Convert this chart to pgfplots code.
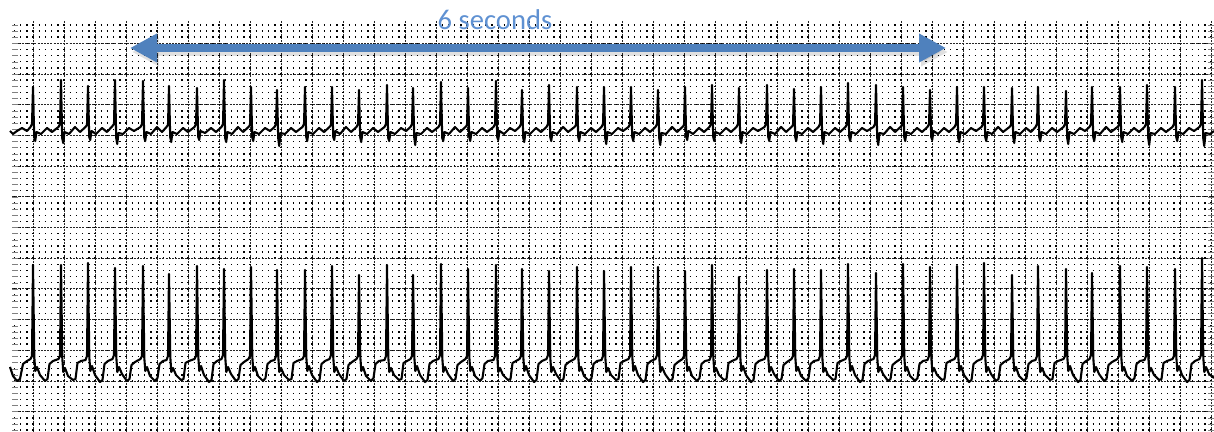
\documentclass[border=0pt]{standalone}
\usepackage{pgfplots}
\pgfplotsset{compat=1.18}
\usepackage{fontspec}
\setmainfont{Carlito}
\usetikzlibrary{arrows.meta}

\definecolor{arrowblue}{RGB}{79,129,189}
\definecolor{textblue}{RGB}{95,145,210}

\begin{document}
\begin{tikzpicture}
% 1 px of the strip = 0.5pt
\begin{axis}[
    scale only axis,
    width=601pt, height=205.5pt,
    xmin=12, xmax=1214,
    ymin=21, ymax=432,
    y dir=reverse,
    clip=false,
    axis line style={draw=none},
    major tick length=0pt,
    xticklabels={}, yticklabels={},
    xtick={33,64,...,1214},
    ytick={43.3,74,...,432},
    minor ytick={24.88,31.02,...,432},
    grid=both,
    major grid style={black!85, line width=0.45pt, dash pattern=on 1pt off 0.6pt},
    minor grid style={black, line width=0.7pt, dash pattern=on 0.7pt off 2.4pt, dash phase=2.2pt},
]

% upper lead
\addplot[black, line width=1.05pt, no marks, line join=round] coordinates {
(10,131) (13,134) (17,131) (22,128) (27,131)
(30.5,127) (32,124) (33,87) (34.2,137) (35.2,141) (36.5,132) (41,134) (47,128) (52,132)
(58.5,127) (60,124) (61,80) (62.2,138) (63.2,143) (64.5,132) (69,134) (75,127) (80,132)
(85.5,127) (87,125) (88,86) (89.2,137) (90.2,140) (91.5,131) (96,134) (102,128) (107,132)
(112.5,126) (114,124) (115,80) (116.2,138) (117.2,144) (118.5,133) (123,134) (129,128) (134,131)
(140.5,127) (142,124) (143,81) (144.2,137) (145.2,141) (146.5,132) (151,134) (157,127) (162,132)
(166.5,127) (168,125) (169,86) (170.2,137) (171.2,142) (172.5,132) (177,134) (183,128) (188,132)
(194.5,127) (196,124) (197,88) (198.2,137) (199.2,140) (200.5,131) (205,133) (211,128) (216,132)
(221.5,127) (223,124) (224,80) (225.2,138) (226.2,142) (227.5,132) (232,134) (238,127) (243,132)
(248.5,127) (250,125) (251,87) (252.2,137) (253.2,141) (254.5,132) (259,134) (265,128) (270,131)
(274.5,127) (276,124) (277,90) (278.2,138) (279.2,146) (280.5,133) (285,134) (291,128) (296,132)
(302.5,127) (304,124) (305,87) (306.2,137) (307.2,141) (308.5,132) (313,134) (319,128) (324,132)
(329.5,127) (331,125) (332,87) (333.2,137) (334.2,140) (335.5,131) (340,134) (346,127) (351,132)
(356.5,127) (358,124) (359,90) (360.2,137) (361.2,142) (362.5,132) (367,134) (373,128) (378,132)
(384.5,127) (386,124) (387,85) (388.2,138) (389.2,141) (390.5,132) (395,134) (401,128) (406,131)
(410.5,127) (412,124) (413,88) (414.2,137) (415.2,145) (416.5,133) (421,134) (427,128) (432,132)
(438.5,127) (440,124) (441,82) (442.2,138) (443.2,141) (444.5,132) (449,134) (455,127) (460,132)
(465.5,127) (467,125) (468,88) (469.2,137) (470.2,141) (471.5,132) (476,134) (482,128) (487,132)
(493.5,127) (495,124) (496,81) (497.2,137) (498.2,140) (499.5,131) (504,134) (510,128) (515,131)
(519.5,127) (521,124) (522,90) (523.2,138) (524.2,142) (525.5,132) (530,134) (536,128) (541,132)
(546.5,127) (548,124) (549,85) (550.2,137) (551.2,141) (552.5,132) (557,134) (563,127) (568,132)
(574.5,127) (576,125) (577,87) (578.2,137) (579.2,141) (580.5,132) (585,134) (591,128) (596,132)
(601.5,127) (603,124) (604,87) (605.2,138) (606.2,144) (607.5,132) (612,134) (618,128) (623,131)
(628.5,127) (630,124) (631,87) (632.2,137) (633.2,141) (634.5,132) (639,134) (645,128) (650,132)
(655.5,127) (657,124) (658,90) (659.2,138) (660.2,145) (661.5,133) (666,134) (672,127) (677,132)
(682.5,127) (684,125) (685,87) (686.2,137) (687.2,140) (688.5,131) (693,134) (699,128) (704,132)
(709.5,127) (711,124) (712,85) (713.2,137) (714.2,141) (715.5,132) (720,134) (726,128) (731,132)
(736.5,127) (738,124) (739,88) (740.2,138) (741.2,143) (742.5,132) (747,134) (753,128) (758,131)
(764.5,127) (766,124) (767,85) (768.2,137) (769.2,141) (770.5,132) (775,134) (781,127) (786,132)
(791.5,127) (793,125) (794,89) (795.2,137) (796.2,141) (797.5,132) (802,134) (808,128) (813,132)
(818.5,127) (820,124) (821,87) (822.2,138) (823.2,144) (824.5,132) (829,134) (835,128) (840,132)
(845.5,127) (847,124) (848,83) (849.2,137) (850.2,141) (851.5,132) (856,134) (862,128) (867,131)
(873.5,127) (875,124) (876,85) (877.2,138) (878.2,145) (879.5,133) (884,134) (890,127) (895,132)
(900.5,127) (902,125) (903,87) (904.2,137) (905.2,141) (906.5,132) (911,134) (917,128) (922,132)
(927.5,127) (929,124) (930,90) (931.2,137) (932.2,140) (933.5,131) (938,134) (944,128) (949,132)
(954.5,127) (956,124) (957,87) (958.2,138) (959.2,142) (960.5,132) (965,134) (971,128) (976,131)
(981.5,127) (983,124) (984,87) (985.2,137) (986.2,141) (987.5,132) (992,134) (998,127) (1003,132)
(1009.5,127) (1011,125) (1012,88) (1013.2,137) (1014.2,143) (1015.5,132) (1020,134) (1026,128) (1031,132)
(1035.5,127) (1037,124) (1038,87) (1039.2,137) (1040.2,141) (1041.5,132) (1046,134) (1052,128) (1057,132)
(1063.5,127) (1065,124) (1066,91) (1067.2,138) (1068.2,144) (1069.5,132) (1074,134) (1080,128) (1085,131)
(1089.5,127) (1091,124) (1092,87) (1093.2,137) (1094.2,141) (1095.5,132) (1100,134) (1106,127) (1111,132)
(1117.5,127) (1119,125) (1120,87) (1121.2,137) (1122.2,142) (1123.5,132) (1128,134) (1134,128) (1139,132)
(1144.5,127) (1146,124) (1147,85) (1148.2,138) (1149.2,145) (1150.5,133) (1155,134) (1161,128) (1166,132)
(1172.5,127) (1174,124) (1175,87) (1176.2,137) (1177.2,141) (1178.5,132) (1183,134) (1189,128) (1194,131)
(1199.5,127) (1201,124) (1202,80) (1203.2,138) (1204.2,146) (1205.5,133) (1210,134) (1214,131)
};

% lower lead
\addplot[black, line width=1.05pt, no marks, line join=round] coordinates {
(10,367) (13,376) (17,381) (20,379) (23,364) (27,361)
(30.5,359) (32,356) (33,265) (34.3,357) (35.3,371) (37,367) (40,375) (45,381) (47.5,379) (49.5,364) (53,361)
(58.5,359) (60,356) (61,265) (62.3,358) (63.3,372) (65,368) (68,376) (73,380) (75.5,379) (77.5,363) (81,361)
(85.5,360) (87,356) (88,263) (89.3,357) (90.3,371) (92,366) (95,375) (100,382) (102.5,380) (104.5,364) (108,361)
(112.5,359) (114,355) (115,268) (116.3,357) (117.3,372) (119,367) (122,374) (127,381) (129.5,379) (131.5,365) (135,362)
(140.5,359) (142,356) (143,266) (144.3,358) (145.3,371) (147,367) (150,376) (155,381) (157.5,378) (159.5,364) (163,361)
(166.5,360) (168,356) (169,274) (170.3,357) (171.3,372) (173,368) (176,375) (181,380) (183.5,379) (185.5,363) (189,361)
(194.5,359) (196,356) (197,266) (198.3,357) (199.3,371) (201,366) (204,375) (209,382) (211.5,380) (213.5,364) (217,361)
(221.5,359) (223,355) (224,269) (225.3,358) (226.3,372) (228,367) (231,374) (236,381) (238.5,379) (240.5,365) (244,362)
(248.5,359) (250,356) (251,267) (252.3,357) (253.3,371) (255,367) (258,376) (263,381) (265.5,378) (267.5,364) (271,361)
(274.5,360) (276,356) (277,270) (278.3,357) (279.3,372) (281,368) (284,375) (289,380) (291.5,379) (293.5,363) (297,361)
(302.5,359) (304,356) (305,270) (306.3,357) (307.3,371) (309,366) (312,375) (317,382) (319.5,380) (321.5,364) (325,361)
(329.5,359) (331,355) (332,266) (333.3,358) (334.3,372) (336,367) (339,374) (344,381) (346.5,379) (348.5,365) (352,362)
(356.5,359) (358,356) (359,275) (360.3,357) (361.3,371) (363,367) (366,376) (371,381) (373.5,378) (375.5,364) (379,361)
(384.5,360) (386,356) (387,265) (388.3,357) (389.3,372) (391,368) (394,375) (399,380) (401.5,379) (403.5,363) (407,361)
(410.5,359) (412,356) (413,275) (414.3,357) (415.3,371) (417,366) (420,375) (425,382) (427.5,380) (429.5,364) (433,361)
(438.5,359) (440,355) (441,264) (442.3,358) (443.3,372) (445,367) (448,374) (453,381) (455.5,379) (457.5,365) (461,362)
(465.5,359) (467,356) (468,269) (469.3,357) (470.3,371) (472,367) (475,376) (480,381) (482.5,378) (484.5,364) (488,361)
(493.5,360) (495,356) (496,265) (497.3,357) (498.3,372) (500,368) (503,375) (508,380) (510.5,379) (512.5,363) (516,361)
(519.5,359) (521,356) (522,269) (523.3,357) (524.3,371) (526,366) (529,375) (534,382) (536.5,380) (538.5,364) (542,361)
(546.5,359) (548,355) (549,271) (550.3,358) (551.3,372) (553,367) (556,374) (561,381) (563.5,379) (565.5,365) (569,362)
(574.5,359) (576,356) (577,267) (578.3,357) (579.3,371) (581,367) (584,376) (589,381) (591.5,378) (593.5,364) (597,361)
(601.5,360) (603,356) (604,271) (605.3,357) (606.3,372) (608,368) (611,375) (616,380) (618.5,379) (620.5,363) (624,361)
(628.5,359) (630,356) (631,267) (632.3,357) (633.3,371) (635,366) (638,375) (643,382) (645.5,380) (647.5,364) (651,361)
(655.5,359) (657,355) (658,267) (659.3,358) (660.3,372) (662,367) (665,374) (670,381) (672.5,379) (674.5,365) (678,362)
(682.5,359) (684,356) (685,271) (686.3,357) (687.3,371) (689,367) (692,376) (697,381) (699.5,378) (701.5,364) (705,361)
(709.5,360) (711,356) (712,265) (713.3,357) (714.3,372) (716,368) (719,375) (724,380) (726.5,379) (728.5,363) (732,361)
(736.5,359) (738,356) (739,277) (740.3,357) (741.3,371) (743,366) (746,375) (751,382) (753.5,380) (755.5,364) (759,361)
(764.5,359) (766,355) (767,270) (768.3,358) (769.3,372) (771,367) (774,374) (779,381) (781.5,379) (783.5,365) (787,362)
(791.5,359) (793,356) (794,269) (795.3,357) (796.3,371) (798,367) (801,376) (806,381) (808.5,378) (810.5,364) (814,361)
(818.5,360) (820,356) (821,270) (822.3,357) (823.3,372) (825,368) (828,375) (833,380) (835.5,379) (837.5,363) (841,361)
(845.5,359) (847,356) (848,264) (849.3,357) (850.3,371) (852,366) (855,375) (860,382) (862.5,380) (864.5,364) (868,361)
(873.5,359) (875,355) (876,273) (877.3,358) (878.3,372) (880,367) (883,374) (888,381) (890.5,379) (892.5,365) (896,362)
(900.5,359) (902,356) (903,264) (904.3,357) (905.3,371) (907,367) (910,376) (915,381) (917.5,378) (919.5,364) (923,361)
(927.5,360) (929,356) (930,267) (931.3,357) (932.3,372) (934,368) (937,375) (942,380) (944.5,379) (946.5,363) (950,361)
(954.5,359) (956,356) (957,266) (958.3,357) (959.3,371) (961,366) (964,375) (969,382) (971.5,380) (973.5,364) (977,361)
(981.5,359) (983,355) (984,263) (985.3,358) (986.3,372) (988,367) (991,374) (996,381) (998.5,379) (1000.5,365) (1004,362)
(1009.5,359) (1011,356) (1012,275) (1013.3,357) (1014.3,371) (1016,367) (1019,376) (1024,381) (1026.5,378) (1028.5,364) (1032,361)
(1035.5,360) (1037,356) (1038,266) (1039.3,357) (1040.3,372) (1042,368) (1045,375) (1050,380) (1052.5,379) (1054.5,363) (1058,361)
(1063.5,359) (1065,356) (1066,269) (1067.3,357) (1068.3,371) (1070,366) (1073,375) (1078,382) (1080.5,380) (1082.5,364) (1086,361)
(1089.5,359) (1091,355) (1092,273) (1093.3,358) (1094.3,372) (1096,367) (1099,374) (1104,381) (1106.5,379) (1108.5,365) (1112,362)
(1117.5,359) (1119,356) (1120,266) (1121.3,357) (1122.3,371) (1124,367) (1127,376) (1132,381) (1134.5,378) (1136.5,364) (1140,361)
(1144.5,360) (1146,356) (1147,267) (1148.3,357) (1149.3,372) (1151,368) (1154,375) (1159,380) (1161.5,379) (1163.5,363) (1167,361)
(1172.5,359) (1174,356) (1175,269) (1176.3,357) (1177.3,371) (1179,366) (1182,375) (1187,382) (1189.5,380) (1191.5,364) (1195,361)
(1199.5,359) (1201,355) (1202,258) (1203.3,358) (1204.3,372) (1206,367) (1209,374) (1214,378)
};

% 6 second span marker
\addplot[black, opacity=0.12, line width=4pt, no marks,
    arrows={Triangle[length=13.5pt,width=13.5pt]-Triangle[length=13.5pt,width=13.5pt]}]
    coordinates {(132,52) (948,52)};
\addplot[arrowblue, line width=4pt, no marks,
    arrows={Triangle[length=13.5pt,width=13.5pt]-Triangle[length=13.5pt,width=13.5pt]}]
    coordinates {(130,48) (946,48)};
\node[anchor=base, text=textblue, font=\fontsize{14.3}{16}\selectfont, inner sep=0pt]
    at (axis cs:495,29.3) {6 seconds};
\end{axis}
\pgfresetboundingbox
\path ([xshift=-6pt]current axis.south west) rectangle ([yshift=10.5pt]current axis.north east);
\end{tikzpicture}
\end{document}
